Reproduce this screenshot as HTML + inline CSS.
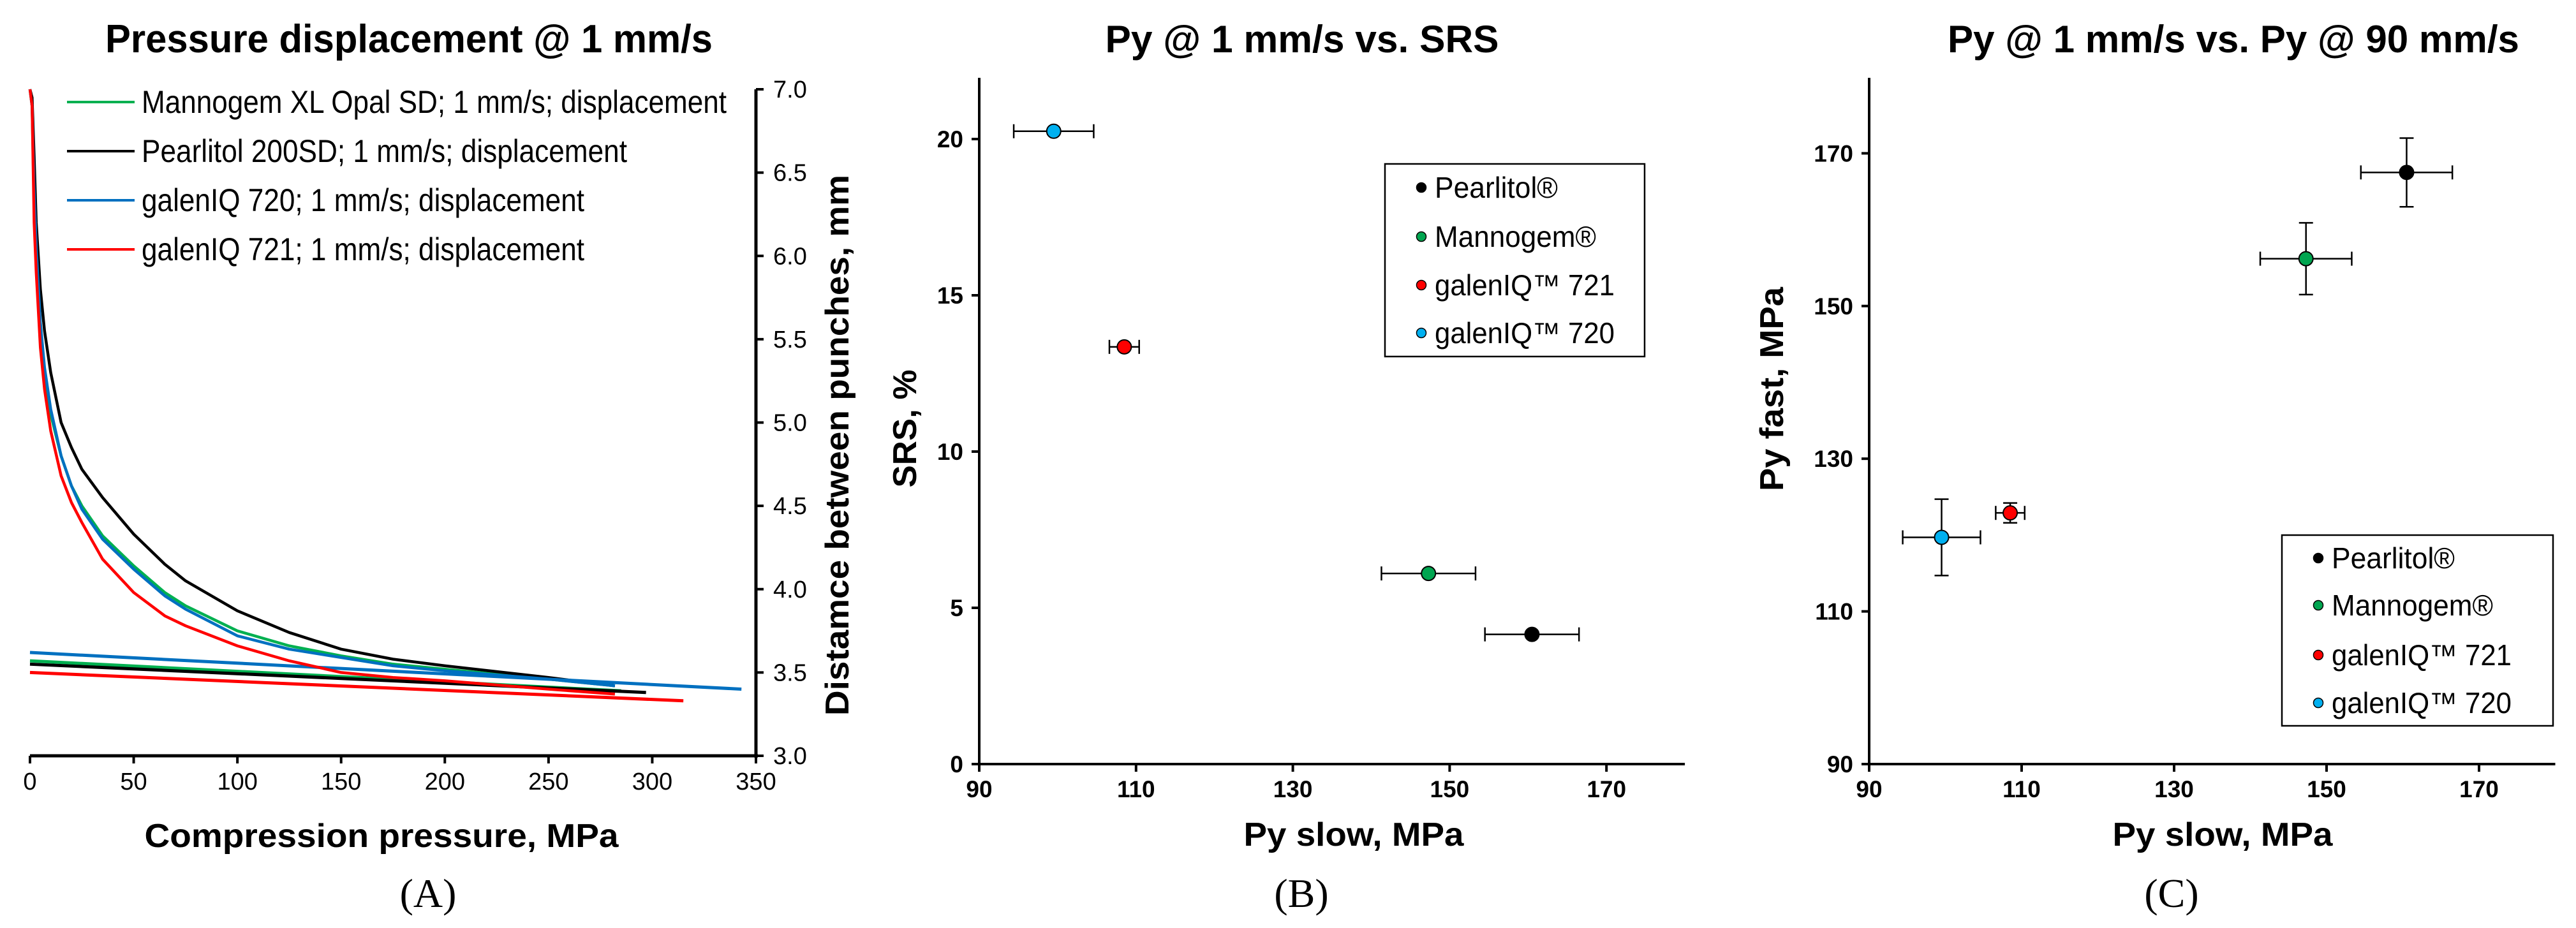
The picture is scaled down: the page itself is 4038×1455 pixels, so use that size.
<!DOCTYPE html>
<html><head><meta charset="utf-8"><style>
html,body{margin:0;padding:0;background:#fff;}
svg{display:block;}
text{font-family:"Liberation Sans Narrow","Liberation Sans",Arial,sans-serif;fill:#000;}
.b{font-family:"Liberation Sans",Arial,sans-serif;font-weight:bold;}
.s{font-family:"Liberation Serif","Times New Roman",serif;}
</style></head><body>
<svg id="fig" width="4038" height="1455" viewBox="0 0 4038 1455" xmlns="http://www.w3.org/2000/svg"></svg>
<script>
// ===== Panel A data =====
const aSeriesNames = ["Mannogem XL Opal SD; 1 mm/s; displacement","Pearlitol 200SD; 1 mm/s; displacement","galenIQ 720; 1 mm/s; displacement","galenIQ 721; 1 mm/s; displacement"];
const aColors = ["#00b050","#000000","#0070c0","#ff0000"];
const aLoadP = [0, 1, 2, 3, 5, 7, 10, 15, 20, 25, 35, 50, 65, 75, 100, 125, 150, 175, 200, 250, 282];
const aLoadGreen = [7.0, 6.9, 6.3, 6.0, 5.55, 5.3, 5.05, 4.8, 4.62, 4.5, 4.32, 4.14, 3.98, 3.9, 3.75, 3.66, 3.6, 3.55, 3.52, 3.46, 3.42];
const aLoadBlack = [7.0, 6.95, 6.6, 6.2, 5.8, 5.55, 5.3, 5.0, 4.85, 4.72, 4.55, 4.33, 4.15, 4.05, 3.87, 3.74, 3.64, 3.58, 3.54, 3.47, 3.42];
const aLoadBlue = [7.0, 6.9, 6.4, 6.05, 5.6, 5.33, 5.08, 4.8, 4.62, 4.48, 4.3, 4.12, 3.96, 3.88, 3.72, 3.64, 3.59, 3.54, 3.51, 3.46, 3.42];
const aLoadRed = [7.0, 6.9, 6.2, 5.9, 5.45, 5.2, 4.95, 4.68, 4.52, 4.4, 4.18, 3.98, 3.84, 3.78, 3.66, 3.57, 3.5, 3.47, 3.45, 3.4, 3.37];
const aUnloadP = [[0,285],[0,297],[0,343],[0,315]];
const aUnloadD = [[3.57,3.39],[3.55,3.38],[3.62,3.40],[3.50,3.33]];
const aXTicks = [0,50,100,150,200,250,300,350];
const aYTicks = ["3.0","3.5","4.0","4.5","5.0","5.5","6.0","6.5","7.0"];
// ===== Panel B / C data =====
const ptNames = ["Pearlitol®","Mannogem®","galenIQ™  721","galenIQ™  720"];
const ptColors = ["#000000","#00a550","#ff0000","#00b0f0"];
const pySlow = [160.5, 147.3, 108.5, 99.5];
const pySlowErr = [6, 6, 1.9, 5.1];
const srs = [4.15, 6.1, 13.35, 20.25];
const pyFast = [167.5, 156.2, 122.9, 119.7];
const pyFastErr = [4.5, 4.7, 1.3, 5];
const bXTicks = [90,110,130,150,170];
const bYTicks = [0,5,10,15,20];
const cYTicks = [90,110,130,150,170];

const NS="http://www.w3.org/2000/svg";
const svg=document.getElementById('fig');
function el(tag,attrs,parent){const e=document.createElementNS(NS,tag);for(const k in attrs)e.setAttribute(k,attrs[k]);(parent||svg).appendChild(e);return e;}
function txt(s,attrs,parent){const t=el('text',attrs,parent);t.textContent=s;return t;}

// ---------- Panel A ----------
const gA=el('g',{});


const ax=v=>47+(v/350)*1138;
const ay=v=>1185-(v-3)*261.25;
let t=txt("Pressure displacement @ 1 mm/s",{x:641,y:82,'text-anchor':'middle','font-size':62,class:'b',textLength:952,lengthAdjust:'spacingAndGlyphs'},gA);

const loads=[aLoadGreen,aLoadBlack,aLoadBlue,aLoadRed];
for(let s=0;s<4;s++){
  let d='';
  for(let i=0;i<aLoadP.length;i++){d+=(i?'L':'M')+ax(aLoadP[i]).toFixed(1)+' '+ay(loads[s][i]).toFixed(1);}
  const p=el('path',{d:d,fill:'none',stroke:aColors[s],'stroke-width':4.5,'stroke-linejoin':'round'},gA);
  
  
  const u=el('line',{x1:ax(aUnloadP[s][0]),y1:ay(aUnloadD[s][0]),x2:ax(aUnloadP[s][1]),y2:ay(aUnloadD[s][1]),stroke:aColors[s],'stroke-width':5},gA);
  
  
}
let ln=el('line',{x1:ax(0),y1:1185,x2:ax(350)+3,y2:1185,stroke:'#000','stroke-width':5},gA);

ln=el('line',{x1:ax(350),y1:ay(7),x2:ax(350),y2:1188,stroke:'#000','stroke-width':5},gA);

aXTicks.forEach(v=>{
  el('line',{x1:ax(v),y1:1185,x2:ax(v),y2:1197,stroke:'#000','stroke-width':4},gA);
  const tt=txt(String(v),{x:ax(v),y:1238,'text-anchor':'middle','font-size':38},gA);
  
});
aYTicks.forEach(v=>{
  const y=ay(parseFloat(v));
  el('line',{x1:ax(350),y1:y,x2:ax(350)+12,y2:y,stroke:'#000','stroke-width':4},gA);
  const tt=txt(v,{x:1212,y:y+13,'font-size':38},gA);
  
});
t=txt("Compression pressure, MPa",{x:598,y:1328,'text-anchor':'middle','font-size':52,class:'b',textLength:743,lengthAdjust:'spacingAndGlyphs'},gA);

t=txt("Distamce between punches, mm",{x:0,y:0,'text-anchor':'middle','font-size':52,class:'b',textLength:848,lengthAdjust:'spacingAndGlyphs',transform:'translate(1330,698) rotate(-90)'},gA);

const aLegY=[160,237,314,391];
const aLegW=[917,761,694,694];
for(let s=0;s<4;s++){
  const g=el('g',{},gA);
  
  
  el('line',{x1:105,y1:aLegY[s],x2:211,y2:aLegY[s],stroke:aColors[s],'stroke-width':4},g);
  txt(aSeriesNames[s],{x:222,y:aLegY[s]+17,'font-size':50,textLength:aLegW[s],lengthAdjust:'spacingAndGlyphs'},g);
}
t=txt("(A)",{x:671,y:1422,'text-anchor':'middle','font-size':64,class:'s'},gA);


// ---------- scatter panel helper ----------
function scatterPanel(cfg){
  const g=el('g',{});
  
  
  const sx=v=>cfg.x0+(v-90)*cfg.xs;
  const sy=v=>cfg.y0-(v-cfg.ymin)*cfg.ys;
  let tt=txt(cfg.title,{x:cfg.tx,y:82,'text-anchor':'middle','font-size':60,class:'b',textLength:cfg.tw,lengthAdjust:'spacingAndGlyphs'},g);
  
  let l=el('line',{x1:cfg.x0,y1:122,x2:cfg.x0,y2:cfg.y0+2,stroke:'#000','stroke-width':4},g);
  
  l=el('line',{x1:cfg.x0-12,y1:cfg.y0,x2:sx(180),y2:cfg.y0,stroke:'#000','stroke-width':4},g);
  
  bXTicks.forEach(v=>{
    el('line',{x1:sx(v),y1:cfg.y0,x2:sx(v),y2:cfg.y0+12,stroke:'#000','stroke-width':4},g);
    const q=txt(String(v),{x:sx(v),y:cfg.y0+52,'text-anchor':'middle','font-size':37,'font-weight':'bold'},g);
    
  });
  cfg.yticks.forEach(v=>{
    el('line',{x1:cfg.x0-12,y1:sy(v),x2:cfg.x0,y2:sy(v),stroke:'#000','stroke-width':4},g);
    const q=txt(String(v),{x:cfg.x0-25,y:sy(v)+13,'text-anchor':'end','font-size':37,'font-weight':'bold'},g);
    
  });
  tt=txt("Py slow, MPa",{x:cfg.xtx,y:1326,'text-anchor':'middle','font-size':52,class:'b',textLength:345,lengthAdjust:'spacingAndGlyphs'},g);
  
  tt=txt(cfg.ytitle,{x:0,y:0,'text-anchor':'middle','font-size':52,class:'b',textLength:cfg.ytw,lengthAdjust:'spacingAndGlyphs',transform:'translate('+cfg.ytx+','+cfg.yty+') rotate(-90)'},g);
  
  for(let i=0;i<4;i++){
    const pg=el('g',{},g);
    
    
    const px=sx(pySlow[i]), py=sy(cfg.yv[i]);
    const x1=sx(pySlow[i]-pySlowErr[i]), x2=sx(pySlow[i]+pySlowErr[i]);
    el('line',{x1:x1,y1:py,x2:x2,y2:py,stroke:'#000','stroke-width':2.5},pg);
    el('line',{x1:x1,y1:py-11,x2:x1,y2:py+11,stroke:'#000','stroke-width':2.5},pg);
    el('line',{x1:x2,y1:py-11,x2:x2,y2:py+11,stroke:'#000','stroke-width':2.5},pg);
    if(cfg.ye){
      const y1=sy(cfg.yv[i]+cfg.ye[i]), y2=sy(cfg.yv[i]-cfg.ye[i]);
      el('line',{x1:px,y1:y1,x2:px,y2:y2,stroke:'#000','stroke-width':2.5},pg);
      el('line',{x1:px-11,y1:y1,x2:px+11,y2:y1,stroke:'#000','stroke-width':2.5},pg);
      el('line',{x1:px-11,y1:y2,x2:px+11,y2:y2,stroke:'#000','stroke-width':2.5},pg);
    }
    el('circle',{cx:px,cy:py,r:11,fill:ptColors[i],stroke:'#000','stroke-width':2},pg);
  }
  const lg=el('g',{},g);
  
  
  el('rect',{x:cfg.lx,y:cfg.ly,width:cfg.lw,height:cfg.lh,fill:'#fff',stroke:'#000','stroke-width':2.5},lg);
  const lw=[193,253,282,282];
  for(let i=0;i<4;i++){
    const eg=el('g',{},lg);
    
    
    const y=cfg.ly+cfg.rows[i];
    el('circle',{cx:cfg.lx+57,cy:y,r:7.5,fill:ptColors[i],stroke:'#000','stroke-width':1.5},eg);
    txt(ptNames[i],{x:cfg.lx+78,y:y+16,'font-size':46,textLength:lw[i],lengthAdjust:'spacingAndGlyphs'},eg);
  }
  tt=txt(cfg.label,{x:cfg.labx,y:1422,'text-anchor':'middle','font-size':64,class:'s'},g);
  
}
scatterPanel({name:'panel-b-chart',x0:1535,xs:12.29,y0:1198,ymin:0,ys:49,yticks:bYTicks,yv:srs,ye:null,
  title:"Py @ 1 mm/s  vs. SRS",tx:2041,tw:617,xtx:2122,ytitle:"SRS, %",ytx:1436,yty:672,ytw:185,
  lx:2171,ly:257,lw:407,lh:302,rows:[37,114,190,265],label:"(B)",labx:2040});
scatterPanel({name:'panel-c-chart',x0:2930,xs:11.95,y0:1198,ymin:90,ys:11.97,yticks:cYTicks,yv:pyFast,ye:pyFastErr,
  title:"Py @ 1 mm/s  vs. Py @ 90 mm/s",tx:3501,tw:896,xtx:3484,ytitle:"Py fast, MPa",ytx:2795,yty:610,ytw:320,
  lx:3577,ly:839,lw:425,lh:299,rows:[36,110,188,263],label:"(C)",labx:3404});
</script>
</body></html>
